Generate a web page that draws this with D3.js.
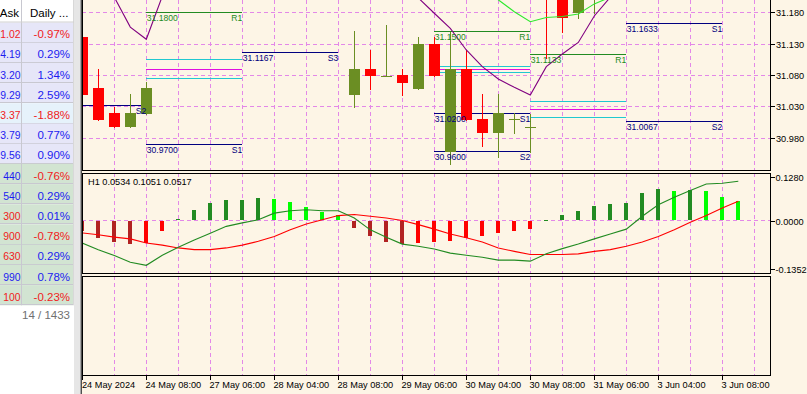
<!DOCTYPE html>
<html><head><meta charset="utf-8">
<script src="https://cdn.jsdelivr.net/npm/d3@7"></script>
<style>html,body{margin:0;padding:0;background:#fff;overflow:hidden}svg{display:block}text{font-family:"Liberation Sans",Arial,sans-serif}</style>
</head><body><svg id="c" width="807" height="394"></svg>
<script>
// ---------- DATA ----------
// Market watch panel
const mwAsk   = ["1.02","4.19","3.20","9.29","3.37","3.79","9.56","440","540","300","900","630","990","100"];
const mwAskDir = [-1,1,1,1,-1,1,1,1,1,-1,-1,-1,1,-1];
const mwDaily = ["-0.97%","0.29%","1.34%","2.59%","-1.88%","0.77%","0.90%","-0.76%","0.29%","0.01%","-0.78%","0.29%","0.78%","-0.23%"];
const mwGroup = ["a","a","a","a","sel","a","a","b","b","b","b","b","b","b"];
const mwFooter = "14 / 1433";

// Time axis labels (one every 4 bars, from the first bar)
const timeLabels = ["24 May 2024","24 May 08:00","27 May 06:00","28 May 04:00","28 May 08:00","29 May 06:00","30 May 04:00","30 May 08:00","31 May 06:00","3 Jun 04:00","3 Jun 08:00"];
const priceTicks = [31.18, 31.13, 31.08, 31.03, 30.98];
const indTicks = [0.128, 0, -0.1352];
const indTitle = "H1 0.0534 0.1051 0.0517";

// Candles (null = out of the visible price range)
const N12 = Array(12).fill(null), N9 = Array(9).fill(null);
const candleOpen  = [31.140,31.059,31.020,30.997,31.018, ...N12, 31.048,31.0895,31.079,31.080,31.058,31.129,30.958,31.0895,31.010,30.988,31.010,30.998,31.300,31.215,31.178,31.205, ...N9];
const candleHigh  = [31.142,31.090,31.029,31.050,31.069, ...N12, 31.150,31.1197,31.159,31.0895,31.140,31.140,31.149,31.1197,31.050,31.050,31.020,31.018,31.310,31.225,31.230,31.250, ...N9];
const candleLow   = [31.048,31.009,30.997,30.997,31.018, ...N12, 31.029,31.058,31.079,31.048,31.058,31.078,30.939,31.009,30.967,30.950,30.988,30.958,31.107,31.148,31.170,31.178, ...N9];
const candleClose = [31.048,31.009,30.997,31.019,31.059, ...N12, 31.0895,31.078,31.079,31.068,31.129,31.078,31.0895,31.009,30.988,31.019,31.010,30.998,31.220,31.170,31.210,31.240, ...N9];

// Moving averages on price
const maPurple = [null,31.240,31.2035,31.156,31.1367,31.205,31.250, ...Array(13).fill(null),
  31.240,31.2024,31.178,31.154,31.1197,31.0932,31.0737,31.0605,31.0483,31.0932,31.1133,31.1316,31.1737,31.2035,31.240, ...Array(7).fill(null)];
const maGreen = [...Array(25).fill(null), 31.240,31.1994,31.1805,31.1646,31.1713,31.1729,31.1768,31.1929,31.2035,31.240, ...Array(7).fill(null)];

// Pivot segments (bar index from/to)
const pivotFrom  = [-2, 4,4,4,4,4, 10, 22,22,22,22,22,22, 28,28,28,28, 34,34];
const pivotTo    = [ 4,10,10,10,10,10, 16, 28,28,28,28,28,28, 34,34,34,34, 40,40];
const pivotValue = [31.032, 31.18,31.105,31.089,31.0748,30.97, 31.1167, 31.15,31.0943,31.089,31.0848,31.02,30.96, 31.1133,31.0387,31.026,31.0129, 31.1633,31.0067];
const pivotName  = ["S2", "R1","P+","P","P-","S1", "S3", "R1","P+","P","P-","S1","S2", "R1","P+","P","P-", "S1","S2"];

// Oscillator pane
const oscHist = [-0.026,-0.047,-0.058,-0.065,-0.063,-0.026,0.007,0.033,0.053,0.061,0.062,0.067,0.064,0.056,0.042,0.027,0.018,
  -0.018,-0.041,-0.058,-0.065,-0.063,-0.058,-0.055,-0.047,-0.041,-0.032,-0.027,-0.021,
  0.005,0.018,0.030,0.044,0.050,0.053,0.082,0.093,0.089,0.091,0.088,0.070,0.059];
const oscGreen = [-0.062,-0.081,-0.098,-0.117,-0.126,-0.097,-0.074,-0.053,-0.034,-0.014,-0.004,0.005,0.024,0.031,0.034,0.031,0.031,
  0.010,-0.024,-0.045,-0.065,-0.071,-0.079,-0.091,-0.097,-0.103,-0.111,-0.111,-0.114,
  -0.093,-0.078,-0.065,-0.050,-0.036,-0.022,0.015,0.048,0.070,0.089,0.108,0.110,0.116];
const oscRed = [-0.033,-0.038,-0.045,-0.050,-0.062,-0.068,-0.076,-0.081,-0.081,-0.076,-0.068,-0.057,-0.043,-0.024,-0.007,0.005,0.017,
  0.020,0.015,0.010,0.003,-0.009,-0.022,-0.036,-0.047,-0.059,-0.076,-0.086,-0.095,
  -0.095,-0.095,-0.093,-0.086,-0.081,-0.071,-0.059,-0.043,-0.024,-0.002,0.017,0.039,0.058];

// ---------- LAYOUT / STYLE ----------
const W = 807, H = 394;
const cream = "#fdf5e6", gridCol = "#e388e8";
const L = 82, R = 770;
const mainBot = 170, indTop = 173, indBot = 273, p3Top = 276, p3Bot = 375;
const svg = d3.select("#c");
const px = v => Math.round(v) + 0.5;

const x = d3.scaleLinear().domain([0, 40]).range([82.3, 722.3]);
const yP = d3.scaleLinear().domain([30.98, 31.18]).range([138, 12]);
const yI = d3.scaleLinear().domain([-0.1352, 0.128]).range([268.5, 177]);

svg.append("rect").attr("width", W).attr("height", H).attr("fill", "#fff");
svg.append("rect").attr("x", 80).attr("y", 0).attr("width", W - 80).attr("height", H).attr("fill", cream);

const defs = svg.append("defs");
defs.append("clipPath").attr("id", "cm").append("rect").attr("x", L + 1).attr("y", 0).attr("width", R - L - 1).attr("height", mainBot);
defs.append("clipPath").attr("id", "ci").append("rect").attr("x", L + 1).attr("y", indTop + 1).attr("width", R - L - 1).attr("height", indBot - indTop - 1);

// ---------- GRID ----------
const gridBars = d3.range(2, 43, 2);
const grid = svg.append("g").attr("stroke", gridCol).attr("stroke-dasharray", "4,3").attr("shape-rendering", "crispEdges");
[[0, mainBot], [indTop, indBot], [p3Top, p3Bot]].forEach(([a, b]) => {
  grid.selectAll(null).data(gridBars).join("line")
    .attr("x1", d => px(x(d))).attr("x2", d => px(x(d))).attr("y1", a).attr("y2", b);
});
grid.selectAll(null).data(priceTicks).join("line")
  .attr("x1", L).attr("x2", R).attr("y1", d => px(yP(d))).attr("y2", d => px(yP(d)));
grid.append("line").attr("x1", L).attr("x2", R).attr("y1", Math.round(yI(0)) - 0.5).attr("y2", Math.round(yI(0)) - 0.5);

// ---------- MAIN PANE ----------
const main = svg.append("g").attr("clip-path", "url(#cm)");
const pivotColor = n => n[0] === "R" ? "#228b22" : n[0] === "S" ? "#000080" : n === "P" ? "#e010e0" : "#20c8d0";
const pg = main.append("g").attr("shape-rendering", "crispEdges");
pivotValue.forEach((v, k) => {
  const yy = px(yP(v));
  pg.append("line").attr("x1", x(pivotFrom[k])).attr("x2", x(pivotTo[k])).attr("y1", yy).attr("y2", yy).attr("stroke", pivotColor(pivotName[k]));
});

const cg = main.append("g").attr("shape-rendering", "crispEdges");
candleOpen.forEach((o, i) => {
  if (o == null) return;
  const c = candleClose[i], hi = candleHigh[i], lo = candleLow[i];
  const col = c >= o ? "#6b8e23" : "#ff0000";
  const cx = px(x(i));
  cg.append("line").attr("x1", cx).attr("x2", cx).attr("y1", Math.round(yP(hi))).attr("y2", Math.round(yP(lo)) + 1).attr("stroke", col);
  const t = Math.round(yP(Math.max(o, c))), b = Math.round(yP(Math.min(o, c)));
  cg.append("rect").attr("x", cx - 5.5).attr("y", t).attr("width", 11).attr("height", Math.max(1, b - t)).attr("fill", col);
});

const lineP = d3.line().defined(d => d != null).x((d, i) => x(i)).y(d => yP(d));
main.append("path").attr("d", lineP(maPurple)).attr("fill", "none").attr("stroke", "#800080").attr("stroke-width", 1.1);
main.append("path").attr("d", lineP(maGreen)).attr("fill", "none").attr("stroke", "#2ee82e").attr("stroke-width", 1.1);

// pivot labels drawn on top
pivotValue.forEach((v, k) => {
  const n = pivotName[k], c = pivotColor(n);
  if (!(n[0] === "R" || n[0] === "S")) return;
  const yy = px(yP(v)), x1 = x(pivotFrom[k]), x2 = x(pivotTo[k]);
  if (x1 >= L) main.append("text").attr("x", x1 + 0.5).attr("y", yy + 8).attr("font-size", 8.6).attr("fill", c).text(v.toFixed(4));
  main.append("text").attr("x", x2).attr("y", yy + 8).attr("font-size", 8.6).attr("fill", c).attr("text-anchor", "end").text(n);
});

// ---------- OSCILLATOR PANE ----------
const ind = svg.append("g").attr("clip-path", "url(#ci)");
const z = Math.round(yI(0));
const hg = ind.append("g").attr("shape-rendering", "crispEdges");
oscHist.forEach((v, i) => {
  const prev = i > 0 ? oscHist[i - 1] : v;
  const up = v > prev;
  const col = v >= 0 ? (up ? "#228b22" : "#00ff00") : (up ? "#ff0000" : "#b22222");
  const yy = Math.round(yI(v));
  const cx = Math.round(x(i));
  if (v >= 0) hg.append("rect").attr("x", cx - 2).attr("y", yy).attr("width", 4).attr("height", Math.max(1, z - 1 - yy)).attr("fill", col);
  else hg.append("rect").attr("x", cx - 2).attr("y", z).attr("width", 4).attr("height", Math.max(1, yy - z)).attr("fill", col);
});
const lineI = d3.line().x((d, i) => x(i)).y(d => yI(d));
ind.append("path").attr("d", lineI(oscRed)).attr("fill", "none").attr("stroke", "#ff0000").attr("stroke-width", 1.1);
ind.append("path").attr("d", lineI(oscGreen)).attr("fill", "none").attr("stroke", "#228b22").attr("stroke-width", 1.1);
svg.append("text").attr("x", 88).attr("y", 184.5).attr("font-size", 9.2).attr("fill", "#000").text(indTitle);

// ---------- FRAMES ----------
const fr = svg.append("g").attr("fill", "none").attr("stroke", "#000").attr("shape-rendering", "crispEdges");
fr.append("path").attr("d", `M${L + 0.5},-2V${mainBot + 0.5}H${R + 0.5}V-2`);
fr.append("rect").attr("x", L + 0.5).attr("y", indTop + 0.5).attr("width", R - L).attr("height", indBot - indTop);
fr.append("rect").attr("x", L + 0.5).attr("y", p3Top + 0.5).attr("width", R - L).attr("height", p3Bot - p3Top);

// ---------- AXES ----------
const ax = svg.append("g").attr("font-size", 9.2).attr("fill", "#000");
priceTicks.forEach(t => {
  const yy = px(yP(t));
  ax.append("line").attr("x1", R + 1).attr("x2", R + 5).attr("y1", yy).attr("y2", yy).attr("stroke", "#000").attr("shape-rendering", "crispEdges");
  ax.append("text").attr("x", R + 6).attr("y", yy + 3.3).text(t.toFixed(3));
});
indTicks.forEach(t => {
  const yy = px(yI(t));
  ax.append("line").attr("x1", R + 1).attr("x2", R + 5).attr("y1", yy).attr("y2", yy).attr("stroke", "#000").attr("shape-rendering", "crispEdges");
  ax.append("text").attr("x", R + 5.5).attr("y", yy + 3.3).text(t.toFixed(4));
});
timeLabels.forEach((lab, j) => {
  const xx = px(x(j * 4));
  ax.append("line").attr("x1", xx).attr("x2", xx).attr("y1", p3Bot + 1).attr("y2", p3Bot + 5).attr("stroke", "#000").attr("shape-rendering", "crispEdges");
  ax.append("text").attr("x", Math.max(L, xx - 1)).attr("y", 387.5).text(lab);
});

// ---------- MARKET WATCH PANEL ----------
const mw = svg.append("g");
mw.append("rect").attr("x", 0).attr("y", 0).attr("width", 74).attr("height", H).attr("fill", "#fff");
mw.append("rect").attr("x", 74).attr("y", 0).attr("width", 6).attr("height", H).attr("fill", "#e6e6e6");
mw.append("line").attr("x1", 80.5).attr("x2", 80.5).attr("y1", 0).attr("y2", H).attr("stroke", "#a8a8a8");
mw.append("line").attr("x1", 81.5).attr("x2", 81.5).attr("y1", 0).attr("y2", H).attr("stroke", "#505050");
const rowTop = 22.5, rowH = 20.2;
const groupFill = { a: "#e6e6f8", sel: "#e6f2fb", b: "#d2e4d2" };
const fs = 11.5;
mwAsk.forEach((a, i) => {
  const t = rowTop + i * rowH;
  mw.append("rect").attr("x", 0).attr("y", t).attr("width", 73).attr("height", rowH).attr("fill", groupFill[mwGroup[i]]);
  mw.append("line").attr("x1", 0).attr("x2", 73).attr("y1", px(t + rowH) - 1).attr("y2", px(t + rowH) - 1).attr("stroke", "#c8c8d0");
  mw.append("text").attr("x", 20.5).attr("y", t + 15.6).attr("text-anchor", "end").attr("font-size", 10.4)
    .attr("fill", mwAskDir[i] > 0 ? "#1c1cf0" : "#f01c1c").text(a);
  mw.append("text").attr("x", 70).attr("y", t + 15.6).attr("text-anchor", "end").attr("font-size", fs)
    .attr("fill", mwDaily[i][0] === "-" ? "#f01c1c" : "#1c1cf0").text(mwDaily[i]);
});
mw.append("line").attr("x1", 21.5).attr("x2", 21.5).attr("y1", 0).attr("y2", rowTop + mwAsk.length * rowH).attr("stroke", "#c8c8d0");
mw.append("line").attr("x1", 73.5).attr("x2", 73.5).attr("y1", 0).attr("y2", rowTop + mwAsk.length * rowH).attr("stroke", "#d8d8d8");
mw.append("line").attr("x1", 0).attr("x2", 74).attr("y1", 22).attr("y2", 22).attr("stroke", "#d0d0d0");
mw.append("text").attr("x", 19).attr("y", 17.3).attr("text-anchor", "end").attr("font-size", fs).attr("fill", "#000").text("Ask");
mw.append("text").attr("x", 30).attr("y", 17.3).attr("font-size", fs).attr("fill", "#000").text("Daily ...");
mw.append("text").attr("x", 70).attr("y", rowTop + mwAsk.length * rowH + 14).attr("text-anchor", "end").attr("font-size", fs).attr("fill", "#707070").text(mwFooter);
</script>
</body></html>
